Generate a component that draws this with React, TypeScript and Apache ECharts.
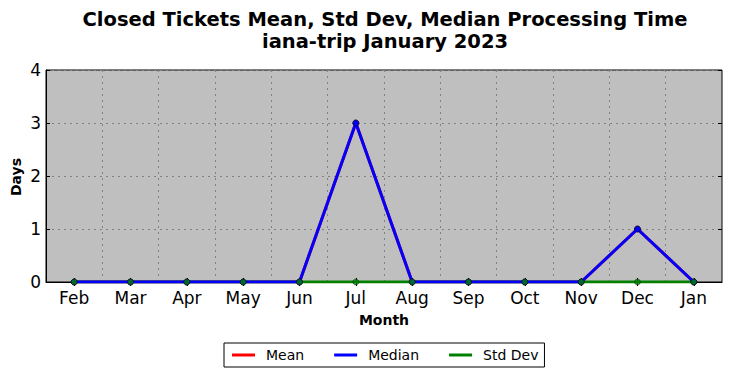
import React, { useEffect, useRef } from "react";
import * as echarts from "echarts";

const months = ["Feb", "Mar", "Apr", "May", "Jun", "Jul", "Aug", "Sep", "Oct", "Nov", "Dec", "Jan"];
const meanValues = [0, 0, 0, 0, 0, 3, 0, 0, 0, 0, 1, 0];
const medianValues = [0, 0, 0, 0, 0, 3, 0, 0, 0, 0, 1, 0];
const stdDevValues = [0, 0, 0, 0, 0, 0, 0, 0, 0, 0, 0, 0];
const yTicks = [0, 1, 2, 3, 4];

const FONT = "DejaVu Sans";

export default function App() {
  const ref = useRef<HTMLDivElement>(null);
  useEffect(() => {
    const chart = echarts.init(ref.current!, null, { renderer: "svg" });
    const gridLeft = 46, gridTop = 70, gridW = 676, gridH = 212;
    chart.setOption({
      animation: false,
      textStyle: { fontFamily: FONT },
      grid: {
        left: gridLeft, top: gridTop, width: gridW, height: gridH,
        show: true, backgroundColor: "#bfbfbf", borderColor: "#000", borderWidth: 1,
      },
      graphic: [
        {
          type: "text", x: 385, y: 8,
          style: {
            text: "Closed Tickets Mean, Std Dev, Median Processing Time\niana-trip January 2023",
            font: `bold 19.5px "${FONT}"`, fill: "#000", textAlign: "center", lineHeight: 22,
          },
        },
        {
          type: "text", x: 16, y: 177, rotation: Math.PI / 2,
          style: {
            text: "Days", font: `bold 14px "${FONT}"`, fill: "#000",
            textAlign: "center", textVerticalAlign: "middle",
          },
        },
        {
          type: "text", x: 384, y: 320,
          style: {
            text: "Month", font: `bold 14px "${FONT}"`, fill: "#000",
            textAlign: "center", textVerticalAlign: "middle",
          },
        },
      ],
      legend: {
        left: 224, top: 343,
        padding: [5, 6, 5, 8],
        borderColor: "#000", borderWidth: 1, borderRadius: 0, backgroundColor: "#fff",
        itemWidth: 23, itemHeight: 3, itemGap: 30, icon: "rect",
        itemStyle: { borderWidth: 0 },
        textStyle: { fontFamily: FONT, fontSize: 14, color: "#000", padding: [0, 0, 0, 6] },
        data: ["Mean", "Median", "Std Dev"],
      },
      xAxis: [
        {
          type: "category", data: months, boundaryGap: true,
          axisLine: { show: true, lineStyle: { color: "#000" } },
          axisTick: { show: true, inside: true, alignWithLabel: true, length: 4, lineStyle: { color: "#000" } },
          axisLabel: { fontFamily: FONT, fontSize: 17, color: "#000", margin: 7 },
          splitLine: { show: true, interval: 0, lineStyle: { color: "#808080", type: [2, 4], width: 1 } },
        },
        {
          type: "category", data: months, boundaryGap: true, position: "top",
          axisLine: { show: false },
          axisTick: { show: true, inside: true, alignWithLabel: true, length: 4, lineStyle: { color: "#000" } },
          axisLabel: { show: false },
          splitLine: { show: false },
        },
      ],
      yAxis: [
        {
          type: "value", min: 0, max: 4, interval: 1,
          axisLine: { show: true, lineStyle: { color: "#000" } },
          axisTick: { show: true, inside: true, length: 4, lineStyle: { color: "#000" } },
          axisLabel: { fontFamily: FONT, fontSize: 17, color: "#000", margin: 5, formatter: (v: number) => (yTicks.includes(v) ? String(v) : "") },
          splitLine: { show: true, lineStyle: { color: "#808080", type: [2, 4], width: 1 } },
        },
        {
          type: "value", min: 0, max: 4, interval: 1, position: "right",
          axisLine: { show: false },
          axisTick: { show: true, inside: true, length: 4, lineStyle: { color: "#000" } },
          axisLabel: { show: false },
          splitLine: { show: false },
        },
      ],
      series: [
        {
          name: "Mean", type: "line", data: meanValues, z: 2,
          symbol: "circle", symbolSize: 6,
          lineStyle: { color: "#ff0000", width: 3 }, itemStyle: { color: "#ff0000", borderColor: "#000", borderWidth: 0.5 },
        },
        {
          name: "Std Dev", type: "line", data: stdDevValues, z: 3,
          symbol: "none",
          lineStyle: { color: "#008000", width: 3 }, itemStyle: { color: "#008000" },
        },
        {
          name: "Median", type: "line", data: medianValues, z: 4,
          symbol: "circle", symbolSize: 6,
          lineStyle: { color: "#0000ff", width: 3 }, itemStyle: { color: "#0000ff", borderColor: "#000", borderWidth: 0.5 },
        },
        {
          name: "Std Dev", type: "scatter", data: stdDevValues, z: 5,
          symbol: "circle", symbolSize: 6,
          itemStyle: { color: "#008000", borderColor: "#000", borderWidth: 0.5 },
        },
      ],
    });
    return () => chart.dispose();
  }, []);
  return <div ref={ref} style={{ width: 732, height: 378, position: "absolute", left: 0, top: 0 }} />;
}
